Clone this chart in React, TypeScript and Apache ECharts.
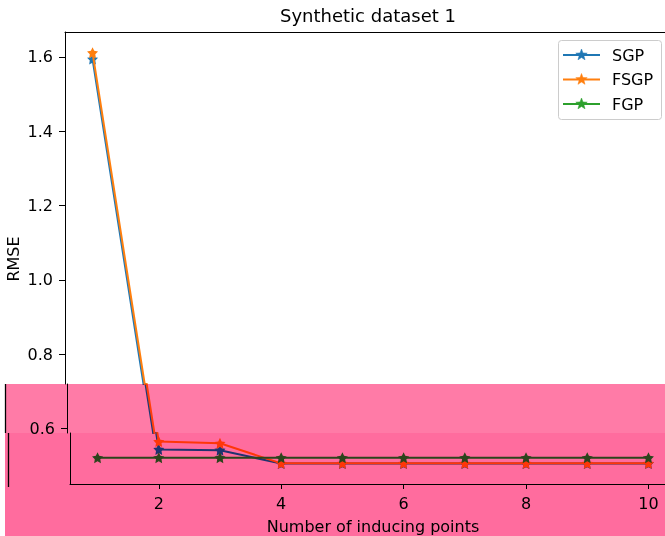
import React, { useEffect, useRef } from "react";
import * as echarts from "echarts";

// ---- data ----
const inducingPoints = [1, 2, 3, 4, 5, 6, 7, 8, 9, 10];
const sgpRmse = [1.594, 0.544, 0.542, 0.506, 0.506, 0.506, 0.506, 0.506, 0.506, 0.506];
const fsgpRmse = [1.611, 0.565, 0.5605, 0.5065, 0.5065, 0.5065, 0.5065, 0.5065, 0.5065, 0.5065];
const fgpRmse = [0.5217, 0.5217, 0.5217, 0.5217, 0.5217, 0.5217, 0.5217, 0.5217, 0.5217, 0.5217];
const seriesNames = ["SGP", "FSGP", "FGP"];
const seriesColors = ["#1f77b4", "#ff7f0e", "#2ca02c"];
const yTicks = [0.6, 0.8, 1.0, 1.2, 1.4, 1.6];
const xTicks = [2, 4, 6, 8, 10];
const titleText = "Synthetic dataset 1";
const xName = "Number of inducing points";
const yName = "RMSE";

const FONT = "DejaVu Sans";
const STAR =
  "path://M0,-10L2.939,-4.045L9.511,-3.090L4.755,1.545L5.878,8.090L0,5L-5.878,8.090L-4.755,1.545L-9.511,-3.090L-2.939,-4.045Z";

function starPoints(cx: number, cy: number, R: number, r: number) {
  const pts: number[][] = [];
  for (let k = 0; k < 10; k++) {
    const a = -Math.PI / 2 + (k * Math.PI) / 5;
    const rad = k % 2 === 0 ? R : r;
    pts.push([cx + rad * Math.cos(a), cy + rad * Math.sin(a)]);
  }
  return pts;
}

export default function App() {
  const ref = useRef<HTMLDivElement>(null);

  useEffect(() => {
    if (!ref.current) return;
    const chart = echarts.init(ref.current, null, { renderer: "svg" });

    const values = [sgpRmse, fsgpRmse, fgpRmse];
    // three horizontal bands of the plot (the lower ones are slightly offset in the reference)
    const bands = [
      { left: 65, top: 32, height: 352, min: 0.71996, max: 1.6667 },
      { left: 67, top: 384, height: 49, min: 0.58817, max: 0.71996 },
      { left: 70, top: 433, height: 51, min: 0.451, max: 0.58817 },
    ];
    const plotWidth = 606;

    const grid = bands.map((b) => ({
      left: b.left,
      top: b.top,
      width: plotWidth,
      height: b.height,
      outerBoundsMode: "none",
    }));

    const xAxis = bands.map((b, i) => ({
      type: "value",
      gridIndex: i,
      min: 0.55,
      max: 10.45,
      position: i === 0 ? "top" : "bottom",
      axisLine: { show: i !== 1, onZero: false, lineStyle: { color: "#000", width: 1 } },
      axisTick: { show: i === 2, customValues: xTicks, length: 5, lineStyle: { color: "#000" } },
      axisLabel: { show: i === 2, customValues: xTicks, fontSize: 16, fontFamily: FONT, color: "#000", margin: 11 },
      splitLine: { show: false },
      name: i === 2 ? xName : "",
      nameLocation: "middle",
      nameGap: 34,
      nameTextStyle: { fontSize: 16, fontFamily: FONT, color: "#000" },
    }));

    const yAxis = bands.map((b, i) => {
      const ticks = yTicks.filter((t) => t >= b.min && t <= b.max);
      return {
        type: "value",
        gridIndex: i,
        min: b.min,
        max: b.max,
        axisLine: { show: true, onZero: false, lineStyle: { color: "#000", width: 1 } },
        axisTick: { show: ticks.length > 0, customValues: ticks, length: 6, lineStyle: { color: "#000" } },
        axisLabel: {
          show: ticks.length > 0,
          customValues: ticks,
          formatter: (v: number) => v.toFixed(1),
          fontSize: 16,
          fontFamily: FONT,
          color: "#000",
          margin: 12,
        },
        splitLine: { show: false },
      };
    });

    const series: any[] = [];
    bands.forEach((_, gi) => {
      seriesNames.forEach((name, si) => {
        series.push({
          type: "line",
          name,
          xAxisIndex: gi,
          yAxisIndex: gi,
          data: inducingPoints.map((x, k) => [x, values[si][k]]),
          symbol: STAR,
          symbolSize: 11,
          color: seriesColors[si],
          lineStyle: { color: seriesColors[si], width: 2 },
          emphasis: { disabled: true },
          z: 2 + si,
        });
      });
    });

    // hand-built legend box (matplotlib style)
    const legendItems: any[] = [
      {
        type: "rect",
        shape: { x: 558.5, y: 40.5, width: 103, height: 79, r: 3 },
        style: { fill: "#ffffff", stroke: "#cccccc", lineWidth: 1 },
        z: 20,
      },
    ];
    seriesNames.forEach((name, i) => {
      const cy = 55 + 24.5 * i;
      legendItems.push(
        {
          type: "line",
          shape: { x1: 563, y1: cy, x2: 600, y2: cy },
          style: { stroke: seriesColors[i], lineWidth: 2 },
          z: 21,
        },
        {
          type: "polygon",
          shape: { points: starPoints(581.5, cy, 6, 2.5) },
          style: { fill: seriesColors[i], stroke: seriesColors[i], lineWidth: 0.5 },
          z: 22,
        },
        {
          type: "text",
          x: 612,
          y: cy,
          style: { text: name, font: `16px "${FONT}"`, fill: "#000", align: "left", verticalAlign: "middle" },
          z: 22,
        }
      );
    });

    chart.setOption({
      animation: false,
      grid,
      xAxis,
      yAxis,
      series,
      graphic: [
        {
          type: "text",
          x: 368,
          y: 15,
          style: { text: titleText, font: `18px "${FONT}"`, fill: "#000", align: "center", verticalAlign: "middle" },
        },
        {
          type: "text",
          x: 13,
          y: 259,
          rotation: Math.PI / 2,
          style: { text: yName, font: `16px "${FONT}"`, fill: "#000", align: "center", verticalAlign: "middle" },
        },
        {
          type: "line",
          shape: { x1: 5.5, y1: 384, x2: 5.5, y2: 433 },
          style: { stroke: "#000", lineWidth: 1.3 },
        },
        {
          type: "line",
          shape: { x1: 8.5, y1: 433, x2: 8.5, y2: 487 },
          style: { stroke: "#000", lineWidth: 1.3 },
        },
        // white strip at the right edge (the reference's right spine lies outside the picture)
        {
          type: "rect",
          shape: { x: 662.3, y: 33, width: 4, height: 351 },
          style: { fill: "#ffffff" },
          z: 50,
        },
        ...legendItems,
      ],
    });

    return () => chart.dispose();
  }, []);

  return (
    <div style={{ position: "fixed", left: 0, top: 0, width: 665, height: 536, background: "#fff" }}>
      <div ref={ref} style={{ position: "absolute", left: 0, top: 0, width: 665, height: 536 }} />
      <div
        style={{
          position: "absolute",
          left: 5,
          top: 384,
          width: 660,
          height: 49,
          background: "rgb(255,123,167)",
          mixBlendMode: "multiply",
          pointerEvents: "none",
        }}
      />
      <div
        style={{
          position: "absolute",
          left: 5,
          top: 433,
          width: 660,
          height: 103,
          background: "rgb(255,108,158)",
          mixBlendMode: "multiply",
          pointerEvents: "none",
        }}
      />
    </div>
  );
}
